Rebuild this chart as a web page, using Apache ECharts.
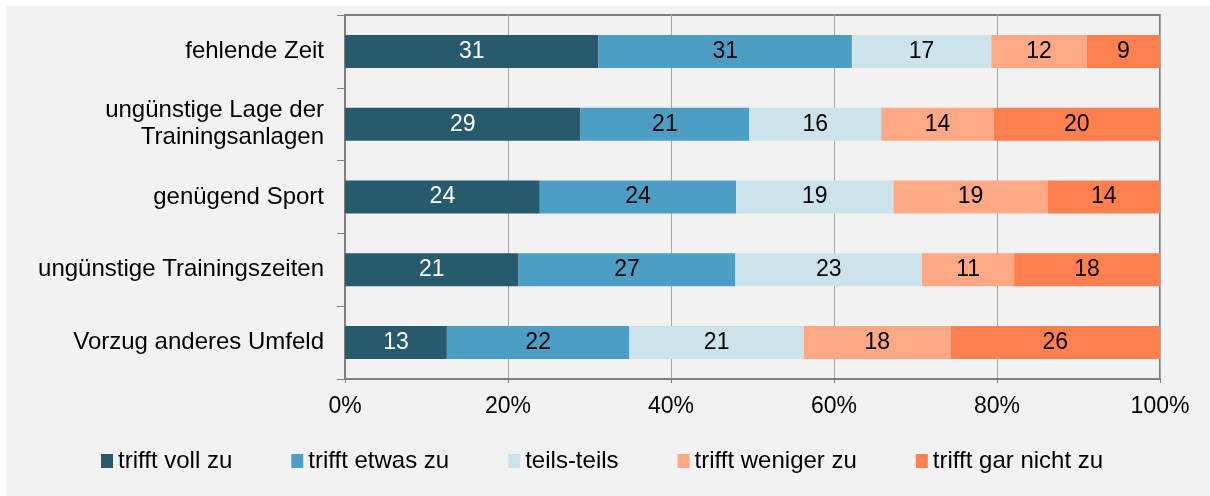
<!DOCTYPE html>
<html>
<head>
<meta charset="utf-8">
<title>Gründe</title>
<script src="https://cdn.jsdelivr.net/npm/echarts@6/dist/echarts.min.js"></script>
<style>
  html, body { margin: 0; padding: 0; background: #ffffff; }
  #chart { position: absolute; left: 7px; top: 6px; width: 1203px; height: 490px; background: #f2f2f2; }
</style>
</head>
<body>
<div id="chart"></div>
<script>
// Kategorien (von oben nach unten)
const categories = [
  'fehlende Zeit',
  'ungünstige Lage der\nTrainingsanlagen',
  'genügend Sport',
  'ungünstige Trainingszeiten',
  'Vorzug anderes Umfeld'
];

const seriesNames = ['trifft voll zu', 'trifft etwas zu', 'teils-teils', 'trifft weniger zu', 'trifft gar nicht zu'];

// Anteile in Prozent, aus dem Bild geschätzt
const vollZu    = [31.1, 28.9, 23.9, 21.3, 12.5];
const etwasZu   = [31.1, 20.7, 24.1, 26.6, 22.4];
const teilsTeils = [17.1, 16.2, 19.3, 22.9, 21.4];
const wenigerZu = [11.7, 13.8, 18.9, 11.3, 18.0];
const garNicht  = [9.0, 20.4, 13.8, 17.9, 25.7];

const xTicks = [0, 20, 40, 60, 80, 100];

const colors = ['#265a6c', '#4d9ec4', '#cde3ec', '#ffa886', '#ff7f4f'];
const labelColors = ['#ffffff', '#000000', '#000000', '#000000', '#000000'];
const font = 'Liberation Sans, Arial, sans-serif';

const chart = echarts.init(document.getElementById('chart'));

const seriesData = [vollZu, etwasZu, teilsTeils, wenigerZu, garNicht];

const option = {
  animation: false,
  color: colors,
  textStyle: { fontFamily: font },
  grid: {
    left: 338,
    top: 9,
    right: 50,
    bottom: 117,
    show: true,
    borderColor: '#808080',
    borderWidth: 2,
    backgroundColor: 'transparent'
  },
  legend: {
    left: 89,
    top: 438,
    itemWidth: 12,
    itemHeight: 14,
    itemGap: 59,
    icon: 'rect',
    textStyle: { fontSize: 24, color: '#000000', fontFamily: font },
    data: seriesNames
  },
  xAxis: {
    type: 'value',
    min: xTicks[0],
    max: xTicks[xTicks.length - 1],
    interval: 20,
    axisLine: { show: true, lineStyle: { color: '#808080', width: 2 } },
    axisTick: { show: true, length: 4, lineStyle: { color: '#808080' } },
    axisLabel: {
      formatter: '{value}%',
      fontSize: 23,
      color: '#000000',
      margin: 16,
      fontFamily: font
    },
    splitLine: { show: true, lineStyle: { color: '#a6a6a6', width: 1 } }
  },
  yAxis: {
    type: 'category',
    inverse: true,
    data: categories,
    axisLine: { show: true, lineStyle: { color: '#808080', width: 2 } },
    axisTick: { show: true, length: 8, lineStyle: { color: '#808080' } },
    axisLabel: {
      fontSize: 24,
      lineHeight: 27,
      color: '#000000',
      margin: 21,
      align: 'right',
      fontFamily: font
    },
    splitLine: { show: false }
  },
  series: seriesNames.map((name, i) => ({
    name: name,
    type: 'bar',
    stack: 'total',
    barWidth: 33,
    data: seriesData[i],
    itemStyle: { color: colors[i] },
    label: {
      show: true,
      position: 'inside',
      fontSize: 23,
      color: labelColors[i],
      fontFamily: font,
      formatter: p => Math.round(p.value)
    }
  }))
};

chart.setOption(option);
</script>
</body>
</html>
